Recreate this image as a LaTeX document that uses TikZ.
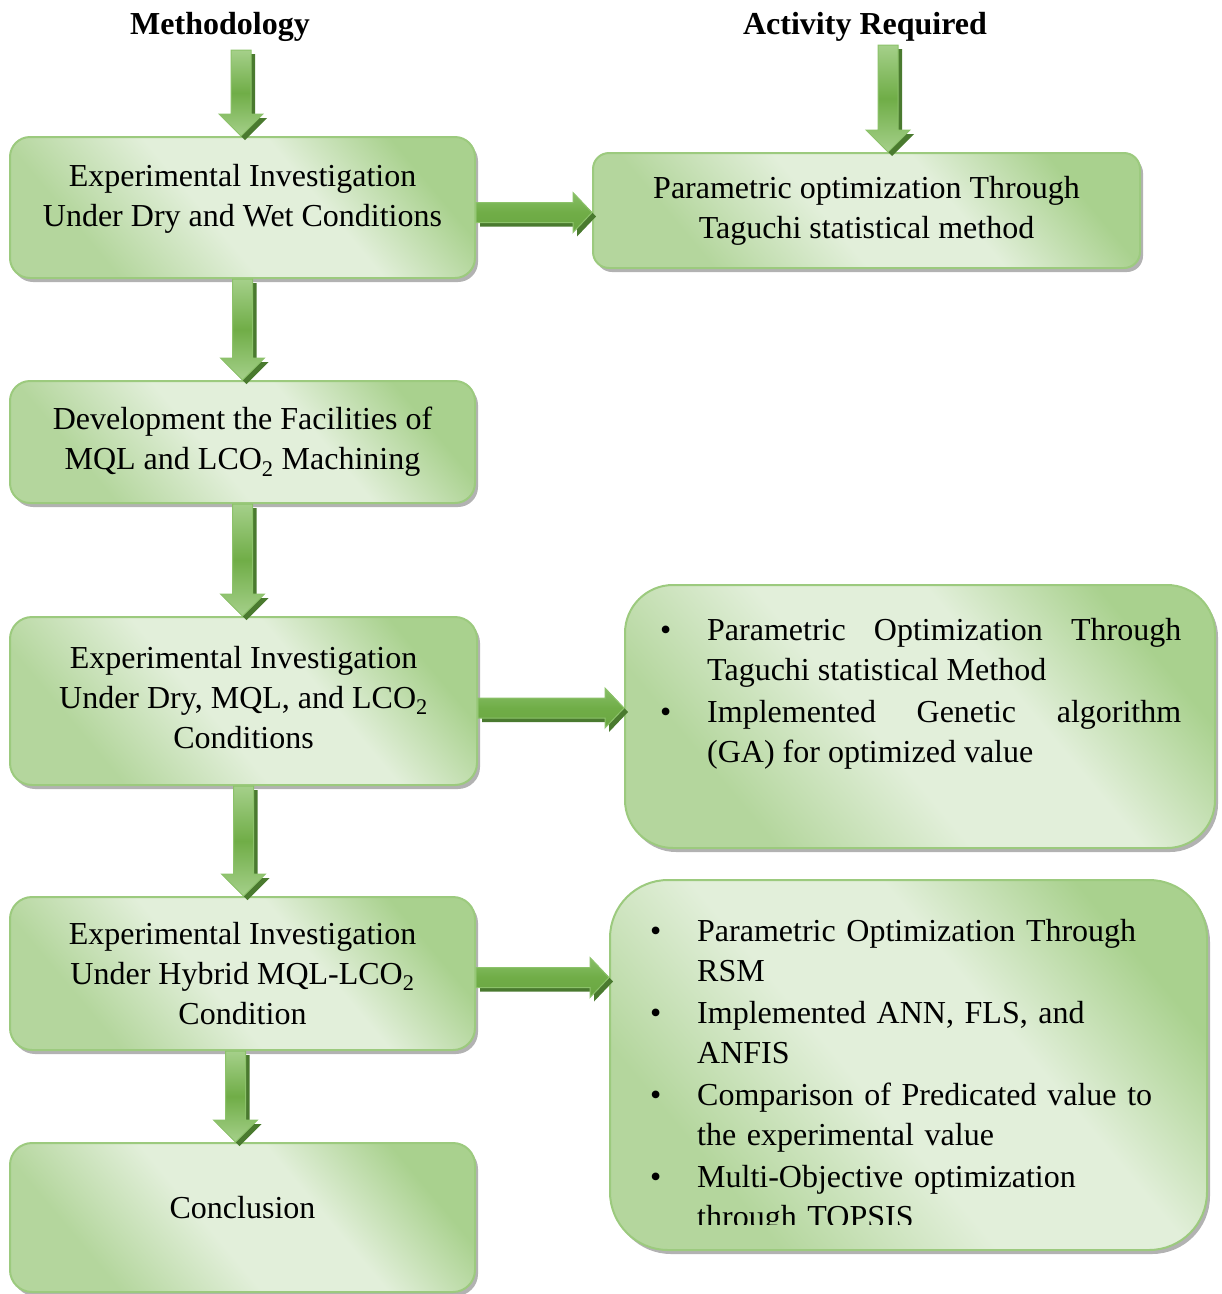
\documentclass[tikz,border=0pt]{standalone}
\usepackage{fontspec}
\setmainfont{Liberation Serif}
\usetikzlibrary{calc,shadows}
\definecolor{dkg}{HTML}{A9D18E}
\definecolor{mdg}{HTML}{B4D69D}
\definecolor{ltg}{HTML}{E2EFDA}
\definecolor{boxline}{HTML}{9CCA7E}
\definecolor{arrlight}{HTML}{A5D08A}
\definecolor{arrdark}{HTML}{70AD47}
\definecolor{arrline}{HTML}{8CC26A}
\definecolor{arrshad}{HTML}{4A7A2F}
\definecolor{arrtop}{HTML}{88BF68}
\definecolor{arrbot}{HTML}{6AA642}
\pgfdeclarehorizontalshading{boxshade}{100bp}{color(0bp)=(mdg); color(28bp)=(mdg); color(45bp)=(ltg); color(60bp)=(ltg); color(75bp)=(dkg); color(100bp)=(dkg)}
\newenvironment{gblist}{\begin{list}{\textbullet}{\setlength\leftmargin{42pt}\settowidth\labelwidth{\textbullet}\setlength\labelsep{36pt}%
     \setlength\itemsep{2pt}\setlength\parsep{0pt}\setlength\topsep{0pt}\setlength\partopsep{0pt}\setlength\itemindent{0pt}}}{\end{list}}
\tikzset{
  basefont/.style={font=\fontsize{32}{40}\selectfont},
  gbox/.style={rectangle, draw=boxline, line width=2pt, shade, shading=boxshade, shading angle=40,
    general shadow={shadow xshift=3pt, shadow yshift=-4pt, fill=black!30},
    inner sep=0pt, align=center, basefont},
  head/.style={font=\fontsize{32}{40}\selectfont\bfseries, inner sep=0pt},
  vgrad/.style={top color=arrlight, bottom color=arrlight, middle color=arrdark, draw=arrline, line width=1pt},
  hgrad/.style={top color=arrtop, bottom color=arrbot, middle color=arrdark, draw=arrline, line width=1pt},
}
% vertical block arrow from #1 (top) to #2 (tip)
\newcommand\vblock[2]{%
  \fill[arrshad] let \p1=#1, \p2=#2 in
    (\x1-10pt+4pt,\y1-4pt) -- (\x1+10pt+4pt,\y1-4pt) -- (\x1+10pt+4pt,\y2+22pt-4pt) --
    (\x1+22pt+4pt,\y2+22pt-4pt) -- (\x1+4pt,\y2-4pt) -- (\x1-22pt+4pt,\y2+22pt-4pt) --
    (\x1-10pt+4pt,\y2+22pt-4pt) -- cycle;
  \shade[vgrad] let \p1=#1, \p2=#2 in
    (\x1-10pt,\y1) -- (\x1+10pt,\y1) -- (\x1+10pt,\y2+22pt) -- (\x1+22pt,\y2+22pt) --
    (\x1,\y2) -- (\x1-22pt,\y2+22pt) -- (\x1-10pt,\y2+22pt) -- cycle;
}
% horizontal block arrow from #1 (start) to #2 (tip)
\newcommand\hblock[2]{%
  \fill[arrshad] let \p1=#1, \p2=#2 in
    (\x1+4pt,\y1+10pt-4pt) -- (\x2-19pt+4pt,\y1+10pt-4pt) -- (\x2-19pt+4pt,\y1+20pt-4pt) --
    (\x2+4pt,\y1-4pt) -- (\x2-19pt+4pt,\y1-20pt-4pt) -- (\x2-19pt+4pt,\y1-10pt-4pt) --
    (\x1+4pt,\y1-10pt-4pt) -- cycle;
  \shade[hgrad] let \p1=#1, \p2=#2 in
    (\x1,\y1+10pt) -- (\x2-19pt,\y1+10pt) -- (\x2-19pt,\y1+20pt) -- (\x2,\y1) --
    (\x2-19pt,\y1-20pt) -- (\x2-19pt,\y1-10pt) -- (\x1,\y1-10pt) -- cycle;
}
\begin{document}
\begin{tikzpicture}[x=1pt,y=1pt]
\useasboundingbox (0,0) rectangle (1222,-1294);
% headings
\node[head] (hm) at (220,-27) {Methodology};
\node[head] (ha) at (865,-27) {Activity Required};
\coordinate (m0) at (241,-50);
\coordinate (a0) at (888,-45);
% left column
\node[gbox, rounded corners=20pt, minimum width=465pt, minimum height=141pt, text depth=25pt] (b1) at (242.5,-207.5)
  {Experimental Investigation\\Under Dry and Wet Conditions};
\node[gbox, rounded corners=20pt, minimum width=465pt, minimum height=122pt] (b2) at (242.5,-442)
  {Development the Facilities of\\MQL and LCO\textsubscript{2} Machining};
\node[gbox, rounded corners=22pt, minimum width=467pt, minimum height=168pt, text depth=8pt] (b3) at (243.5,-701)
  {Experimental Investigation\\Under Dry, MQL, and LCO\textsubscript{2}\\Conditions};
\node[gbox, rounded corners=22pt, minimum width=465pt, minimum height=153pt] (b4) at (242.5,-973.5)
  {Experimental Investigation\\Under Hybrid MQL-LCO\textsubscript{2}\\Condition};
\node[gbox, rounded corners=22pt, minimum width=465pt, minimum height=149pt, text depth=20pt] (b5) at (242.5,-1217.5)
  {Conclusion};
% right column
\node[gbox, rounded corners=16pt, minimum width=547pt, minimum height=115pt] (r1) at (866.5,-210.5)
  {Parametric optimization Through\\Taguchi statistical method};
\node[gbox, rounded corners=48pt, minimum width=590pt, minimum height=263pt] (r2) at (920,-716.5) {};
\node[gbox, rounded corners=58pt, minimum width=597pt, minimum height=370pt] (r3) at (908.5,-1065) {};
\node[anchor=north west, inner sep=0pt, text width=516pt, align=justify, basefont] (r2t) at (665,-600)
  {\begin{gblist}
   \item Parametric Optimization Through\linebreak Taguchi statistical Method
   \item Implemented Genetic algorithm\linebreak (GA) for optimized value
   \end{gblist}};
\begin{scope}
\clip (600,-870) rectangle (1222,-1224);
\node[anchor=north west, inner sep=0pt, text width=510pt, align=left, basefont] (r3t) at (655,-901)
  {\begin{gblist}
   \item Parametric Optimization Through\\RSM
   \item Implemented ANN, FLS, and\\ANFIS
   \item Comparison of Predicated value to\\the experimental value
   \item Multi-Objective optimization\\through TOPSIS
   \end{gblist}};
\end{scope}
% arrows
\vblock{(m0)}{(m0 |- b1.north)}
\vblock{(a0)}{(a0 |- r1.north)}
\vblock{(b1.south)}{(b2.north)}
\vblock{(b2.south)}{(b3.north)}
\vblock{(b3.south)}{(b4.north)}
\vblock{([xshift=-7pt]b4.south)}{([xshift=-7pt]b5.north)}
\hblock{($(b1.east)+(0,-5)$)}{($(b1.east -| r1.west)+(0,-5)$)}
\hblock{($(b3.east)+(0,-7)$)}{($(b3.east -| r2.west)+(0,-7)$)}
\hblock{($(b4.east)+(0,-4)$)}{($(b4.east -| r3.west)+(0,-4)$)}
\end{tikzpicture}
\end{document}
